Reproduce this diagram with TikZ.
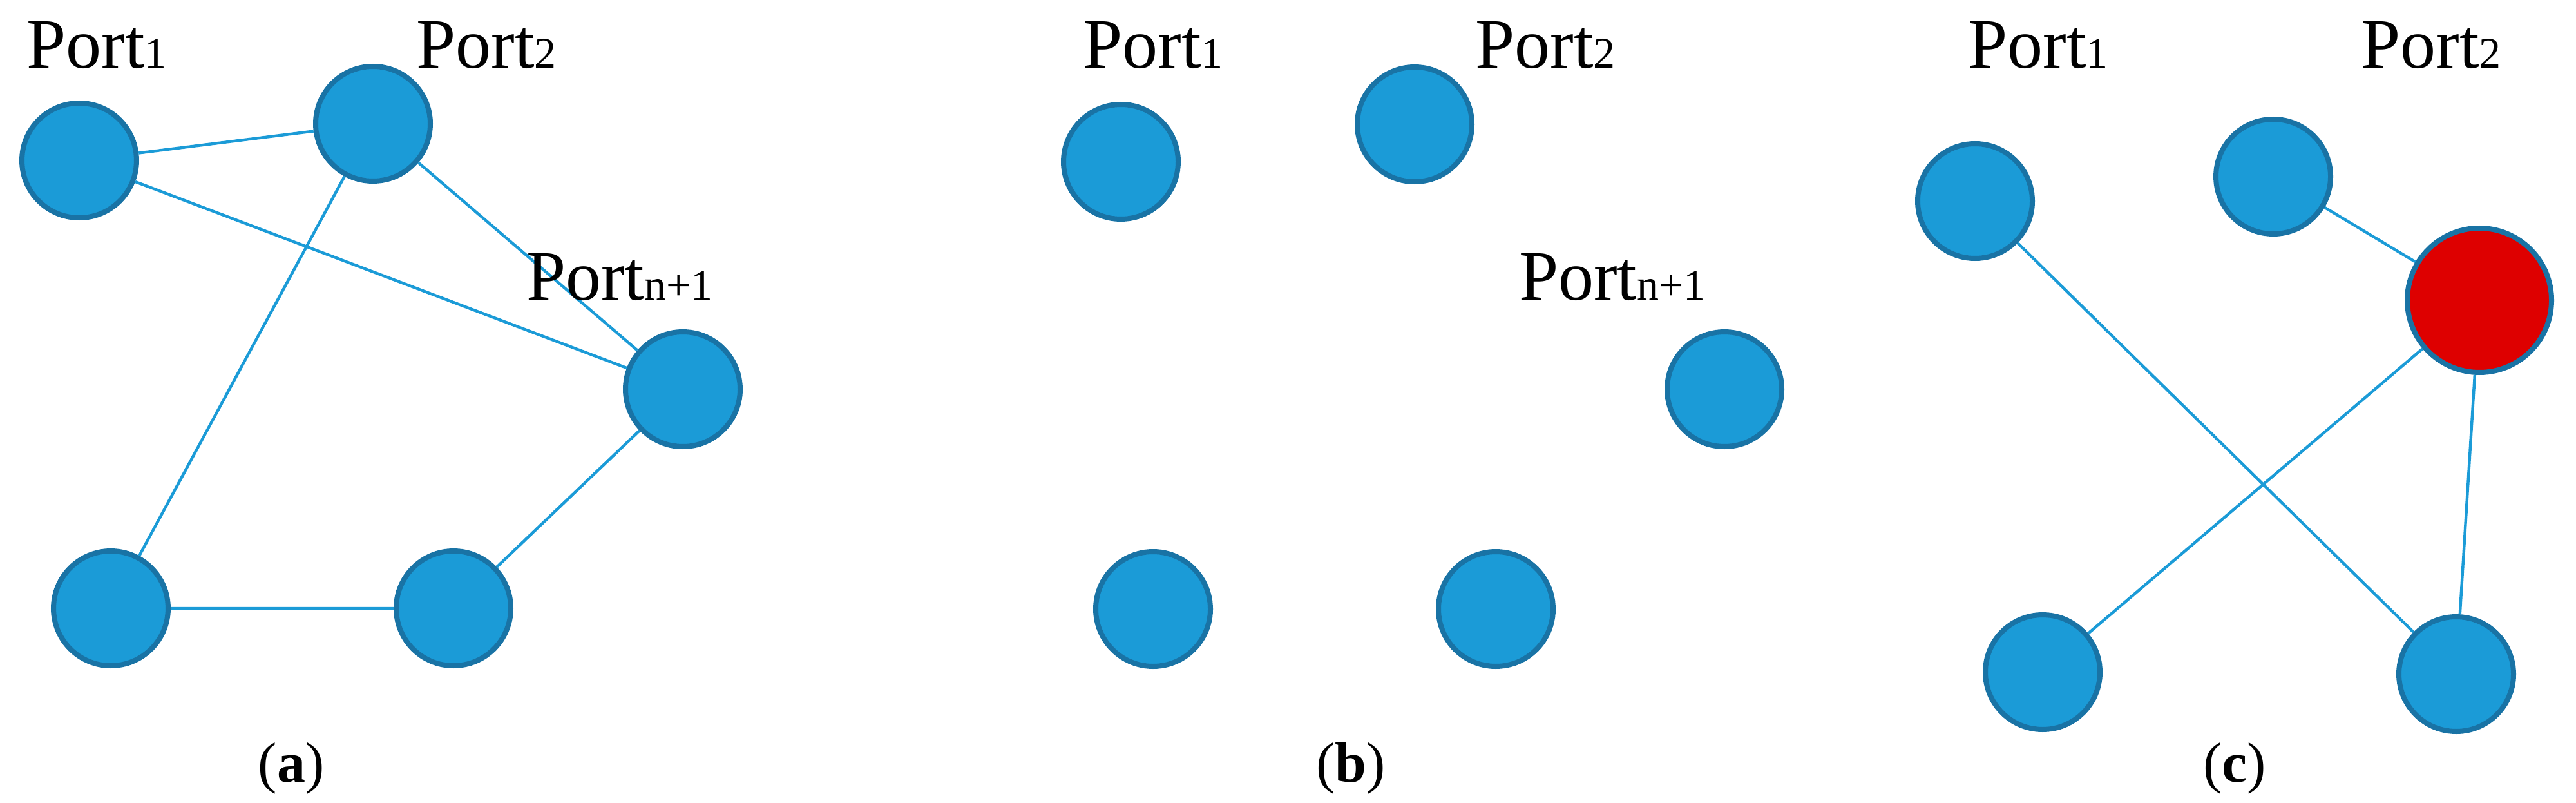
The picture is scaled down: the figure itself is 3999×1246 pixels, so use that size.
\documentclass[tikz,border=0pt]{standalone}
\usepackage{fontspec}
\setmainfont{Liberation Serif}
\definecolor{nfill}{RGB}{27,155,215}
\definecolor{ndraw}{RGB}{25,115,165}
\definecolor{edgec}{RGB}{27,155,215}
\definecolor{rfill}{RGB}{222,0,0}
\begin{document}
\begin{tikzpicture}[x=0.5pt,y=-0.5pt,
  nd/.style={circle,fill=nfill,draw=ndraw,line width=4pt,minimum size=89pt,inner sep=0pt},
  rd/.style={nd,fill=rfill,minimum size=112pt},
  ed/.style={draw=edgec,line width=2.2pt},
  lab/.style={font=\fontsize{55}{60}\selectfont,inner sep=0pt},
  subcap/.style={font=\fontsize{44}{50}\selectfont,inner sep=0pt}]
\newcommand{\sbs}[1]{{\fontsize{34}{34}\selectfont #1}}
\useasboundingbox (0,0) rectangle (3999,1246);
% (a)
\node[nd] (a1) at (123,249) {};
\node[nd] (a2) at (579,192) {};
\node[nd] (a3) at (1060,604) {};
\node[nd] (a4) at (172,944) {};
\node[nd] (a5) at (704,944) {};
\draw[ed] (a1)--(a2) (a1)--(a3) (a2)--(a3) (a2)--(a4) (a4)--(a5) (a5)--(a3);
\node[lab] (la1) at (150,70) {Port\sbs{1}};
\node[lab] (la2) at (755,70) {Port\sbs{2}};
\node[lab] (la3) at (962,430) {Port\sbs{n+1}};
\node[subcap] (ca) at (452,1192) {(\textbf{a})};
% (b)
\node[nd] (b1) at (1740,251) {};
\node[nd] (b2) at (2196,193) {};
\node[nd] (b3) at (2677,604) {};
\node[nd] (b4) at (1790,945) {};
\node[nd] (b5) at (2322,945) {};
\node[lab] (lb1) at (1790,70) {Port\sbs{1}};
\node[lab] (lb2) at (2399,70) {Port\sbs{2}};
\node[lab] (lb3) at (2503,430) {Port\sbs{n+1}};
\node[subcap] (cb) at (2097,1192) {(\textbf{b})};
% (c)
\node[nd] (c1) at (3066,312) {};
\node[nd] (c2) at (3529,274) {};
\node[rd] (c3) at (3849,466) {};
\node[nd] (c4) at (3171,1043) {};
\node[nd] (c5) at (3813,1046) {};
\draw[ed] (c1)--(c5) (c2)--(c3) (c3)--(c4) (c3)--(c5);
\node[lab] (lc1) at (3164,70) {Port\sbs{1}};
\node[lab] (lc2) at (3774,70) {Port\sbs{2}};
\node[subcap] (cc) at (3469,1192) {(\textbf{c})};
\end{tikzpicture}
\end{document}
